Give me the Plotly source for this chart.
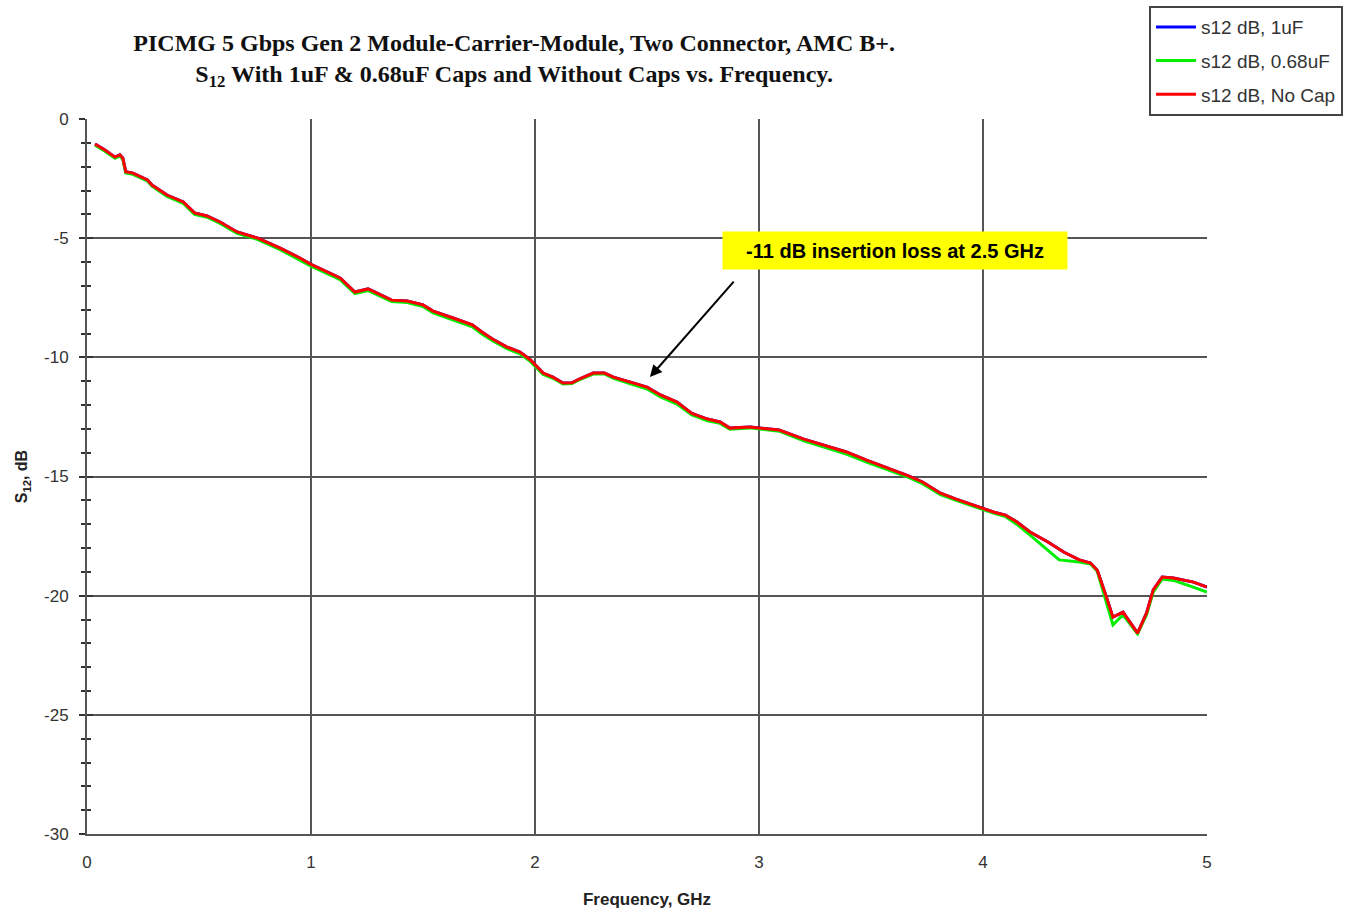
import plotly.graph_objects as go

# Frequency (GHz) and S12 (dB)
freq_red = [0.036, 0.08, 0.125, 0.147, 0.16, 0.173, 0.205, 0.27, 0.29, 0.357, 0.43, 0.48, 0.536, 0.594,
            0.67, 0.76, 0.86, 0.95, 1.0, 1.13, 1.196, 1.255, 1.36, 1.43, 1.5, 1.545, 1.634, 1.72, 1.763,
            1.81, 1.875, 1.933, 1.98, 2.036, 2.08, 2.125, 2.165, 2.2, 2.26, 2.31, 2.35, 2.424, 2.5, 2.56,
            2.634, 2.7, 2.77, 2.826, 2.87, 2.96, 3.05, 3.09, 3.2, 3.3, 3.39, 3.48, 3.58, 3.67, 3.73, 3.81,
            3.88, 3.97, 4.05, 4.1, 4.15, 4.21, 4.29, 4.36, 4.43, 4.48, 4.51, 4.545, 4.58, 4.625, 4.69,
            4.73, 4.76, 4.80, 4.85, 4.94, 5.0]
s12_red = [-1.05, -1.3, -1.6, -1.5, -1.64, -2.21, -2.27, -2.56, -2.77, -3.19, -3.48, -3.94, -4.07, -4.32,
           -4.74, -4.99, -5.41, -5.83, -6.1, -6.67, -7.26, -7.13, -7.6, -7.64, -7.8, -8.06, -8.35, -8.64, -8.94,
           -9.23, -9.57, -9.78, -10.11, -10.66, -10.83, -11.08, -11.07, -10.9, -10.66, -10.66, -10.83, -11.03,
           -11.25, -11.58, -11.88, -12.35, -12.59, -12.71, -12.97, -12.92, -13.0, -13.05, -13.43, -13.72, -13.97,
           -14.31, -14.65, -14.98, -15.23, -15.7, -15.95, -16.24, -16.5, -16.62, -16.9, -17.33, -17.75, -18.17,
           -18.5, -18.63, -18.93, -19.89, -20.9, -20.69, -21.57, -20.73, -19.76, -19.22, -19.26, -19.43, -19.64]

freq_green = [0.036, 0.08, 0.125, 0.147, 0.16, 0.173, 0.205, 0.27, 0.29, 0.357, 0.43, 0.48, 0.536, 0.594,
              0.67, 0.76, 0.86, 0.95, 1.0, 1.13, 1.196, 1.255, 1.36, 1.43, 1.5, 1.545, 1.634, 1.72, 1.763,
              1.81, 1.875, 1.933, 1.98, 2.036, 2.08, 2.125, 2.165, 2.2, 2.26, 2.31, 2.35, 2.424, 2.5, 2.56,
              2.634, 2.7, 2.77, 2.826, 2.87, 2.96, 3.05, 3.09, 3.2, 3.3, 3.39, 3.48, 3.58, 3.67, 3.73, 3.81,
              3.88, 3.97, 4.05, 4.1, 4.15, 4.21, 4.29, 4.34, 4.43, 4.48, 4.51, 4.545, 4.58, 4.625, 4.69,
              4.73, 4.76, 4.80, 4.85, 4.91, 5.0]
s12_green = [-1.1, -1.35, -1.65, -1.55, -1.7, -2.26, -2.32, -2.61, -2.82, -3.25, -3.54, -4.0, -4.12, -4.38,
             -4.8, -5.05, -5.47, -5.9, -6.17, -6.74, -7.33, -7.2, -7.66, -7.7, -7.87, -8.13, -8.42, -8.72, -9.02,
             -9.3, -9.64, -9.85, -10.18, -10.72, -10.88, -11.12, -11.1, -10.93, -10.7, -10.7, -10.88, -11.1,
             -11.33, -11.66, -11.96, -12.42, -12.66, -12.77, -13.02, -12.96, -13.04, -13.1, -13.5, -13.8, -14.06,
             -14.4, -14.73, -15.05, -15.3, -15.76, -16.0, -16.3, -16.55, -16.68, -17.0, -17.46, -18.09, -18.5,
             -18.59, -18.67, -18.97, -20.1, -21.23, -20.8, -21.6, -20.8, -19.85, -19.3, -19.36, -19.55, -19.85]

freq_blue = freq_red
s12_blue = s12_red

y_ticks = [0, -5, -10, -15, -20, -25, -30]
y_tick_labels = ["0", "-5", "-10", "-15", "-20", "-25", "-30"]
x_ticks = [0, 1, 2, 3, 4, 5]

fig = go.Figure()
fig.add_trace(go.Scatter(x=freq_blue, y=s12_blue, mode="lines", name="s12 dB, 1uF", legendgroup="a",
                         line=dict(color="#0000ff", width=3)))
fig.add_trace(go.Scatter(x=freq_green, y=s12_green, mode="lines", name="s12 dB, 0.68uF", legendgroup="b",
                         line=dict(color="#00ee00", width=3)))
fig.add_trace(go.Scatter(x=freq_red, y=s12_red, mode="lines", name="s12 dB, No Cap", legendgroup="c",
                         line=dict(color="#ff0000", width=3)))
# invisible trace to host secondary y-axis ticks (inside ticks)
fig.add_trace(go.Scatter(x=[0], y=[0], yaxis="y2", mode="markers", marker=dict(opacity=0),
                         showlegend=False, hoverinfo="skip"))

grid_color = "#555555"
fig.update_layout(
    width=1346, height=913,
    margin=dict(l=87, r=139, t=119, b=79, autoexpand=False),
    plot_bgcolor="white", paper_bgcolor="white",
    font=dict(family="Liberation Sans, Arial", color="#222222", size=16),
    title=dict(
        text="PICMG 5 Gbps Gen 2 Module-Carrier-Module, Two Connector, AMC B+.<br>"
             "S<sub>12</sub> With 1uF &amp; 0.68uF Caps and Without Caps vs. Frequency.",
        x=0.382, xanchor="center", y=0.944, yanchor="top",
        font=dict(family="Liberation Serif, Times New Roman", size=24, color="#111111", weight="bold"),
    ),
    xaxis=dict(
        range=[0, 5], tickvals=x_ticks, showgrid=True, gridcolor=grid_color, gridwidth=2,
        showline=True, linecolor=grid_color, linewidth=2, zeroline=False, automargin=False,
        ticks="", tickfont=dict(size=17, color="#333333"), ticklabelstandoff=12,
        title=dict(text="<b>Frequency, GHz</b>", font=dict(size=17, color="#222222"), standoff=22),
    ),
    yaxis=dict(
        range=[-30, 0], tickvals=y_ticks, ticktext=y_tick_labels, showgrid=True, gridcolor=grid_color,
        gridwidth=2, showline=True, linecolor=grid_color, linewidth=2, zeroline=False, automargin=False,
        ticks="outside", ticklen=6, tickwidth=2, tickcolor="#333333", ticklabelstandoff=7,
        minor=dict(dtick=1, ticks="outside", ticklen=4, tickwidth=2, tickcolor="#333333", showgrid=False),
        tickfont=dict(size=17, color="#333333"),
        title=dict(text="<b>S<sub>12</sub>, dB</b>", font=dict(size=16, color="#222222"), standoff=12),
    ),
    yaxis2=dict(
        overlaying="y", side="left", range=[-30, 0], showgrid=False, zeroline=False, showline=False,
        showticklabels=False, tickvals=y_ticks, ticks="inside", ticklen=6, automargin=False,
        tickwidth=2, tickcolor="#333333",
        minor=dict(dtick=1, ticks="inside", ticklen=4, tickwidth=2, tickcolor="#333333"),
    ),
    legend=dict(
        x=1.1214, xanchor="right", y=1.158, yanchor="top",
        bgcolor="white", bordercolor="#444444", borderwidth=2,
        font=dict(size=19, color="#333333"), tracegroupgap=6, itemwidth=40,
    ),
    showlegend=True,
)

fig.add_annotation(
    x=2.513, y=-10.83, ax=2.893, ay=-6.76, xref="x", yref="y", axref="x", ayref="y",
    text="", showarrow=True, arrowhead=2, arrowsize=1.2, arrowwidth=2, arrowcolor="black",
)
fig.add_annotation(
    x=3.607, y=-5.52, xref="x", yref="y", text="<b>-11 dB insertion loss at 2.5 GHz</b>",
    showarrow=False, bgcolor="#ffff00", width=340, height=33, borderpad=2,
    font=dict(size=20, color="black", family="Liberation Sans, Arial"),
)

fig.write_html("out.html")
